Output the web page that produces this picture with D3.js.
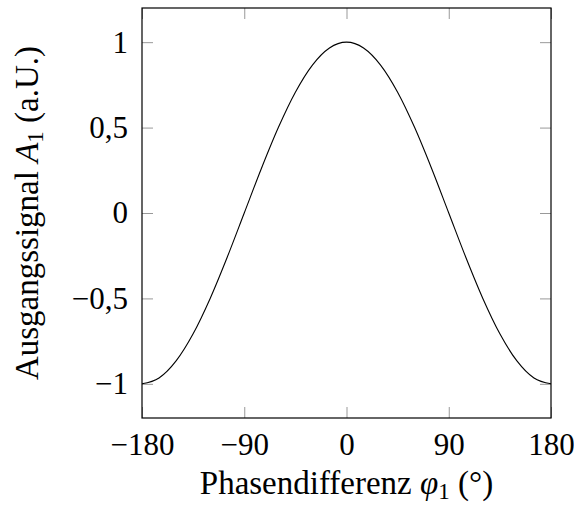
<!DOCTYPE html>
<html>
<head>
<meta charset="utf-8">
<script src="https://cdn.jsdelivr.net/npm/d3@7"></script>
<style>
  body { margin: 0; background: #fff; }
  text { font-family: "Liberation Serif", "Times New Roman", serif; }
</style>
</head>
<body>
<script>
// phase difference (deg) and output signal A1 (a.U.)
var phase  = [-180, -165, -150, -135, -120, -105, -90, -75, -60, -45, -30, -15, 0,
              15, 30, 45, 60, 75, 90, 105, 120, 135, 150, 165, 180];
var signal = [-1, -0.966, -0.866, -0.707, -0.5, -0.259, 0, 0.259, 0.5, 0.707, 0.866, 0.966, 1,
              0.966, 0.866, 0.707, 0.5, 0.259, 0, -0.259, -0.5, -0.707, -0.866, -0.966, -1];
var xTicks = [-180, -90, 0, 90, 180];
var yTicks = [-1, -0.5, 0, 0.5, 1];

var w = 574, h = 506;
var m = {left: 142, right: 23, top: 8, bottom: 88};
var iw = w - m.left - m.right, ih = h - m.top - m.bottom;

var svg = d3.select("body").append("svg")
    .attr("width", w)
    .attr("height", h);

var x = d3.scaleLinear().domain([-180, 180]).range([0, iw]);
var y = d3.scaleLinear().domain([-1.2, 1.2]).range([ih, 0]);

function fmt(v) {
    return String(v).replace(".", ",").replace("-", "\u2212");
}

var g = svg.append("g").attr("transform", "translate(" + m.left + "," + m.top + ")");

// inward ticks on all four sides
var tickLen = 11;
var tc = "#999";
g.append("g").attr("transform", "translate(0," + ih + ")")
    .call(d3.axisBottom(x).tickValues(xTicks).tickSize(-tickLen).tickPadding(15).tickFormat(fmt));
g.append("g")
    .call(d3.axisTop(x).tickValues(xTicks).tickSize(-tickLen).tickFormat(""));
g.append("g")
    .call(d3.axisLeft(y).tickValues(yTicks).tickSize(-tickLen).tickPadding(14).tickFormat(fmt));
g.append("g").attr("transform", "translate(" + iw + ",0)")
    .call(d3.axisRight(y).tickValues(yTicks).tickSize(-tickLen).tickFormat(""));

g.selectAll(".domain").remove();
g.selectAll(".tick line").attr("stroke", tc).attr("stroke-width", 1);
g.selectAll(".tick text").attr("fill", "#000").style("font-size", "31px");

// frame
g.append("rect")
    .attr("width", iw).attr("height", ih)
    .attr("fill", "none").attr("stroke", "#000").attr("stroke-width", 1.2);

// curve
var line = d3.line()
    .x(function(d, i) { return x(phase[i]); })
    .y(function(d) { return y(d); })
    .curve(d3.curveMonotoneX);

g.append("path")
    .datum(signal)
    .attr("d", line)
    .attr("fill", "none")
    .attr("stroke", "#000")
    .attr("stroke-width", 1.1);

// axis labels
var xl = svg.append("text")
    .attr("x", m.left + iw / 2).attr("y", 494)
    .attr("text-anchor", "middle")
    .style("font-size", "33px");
xl.append("tspan").text("Phasendifferenz ");
xl.append("tspan").style("font-style", "italic").text("\u03c6");
xl.append("tspan").attr("dy", 5).style("font-size", "23px").text("1");
xl.append("tspan").attr("dy", -5).text(" (\u00b0)");

var yl = svg.append("text")
    .attr("transform", "translate(38," + (m.top + ih / 2) + ") rotate(-90)")
    .attr("text-anchor", "middle")
    .style("font-size", "33px");
yl.append("tspan").text("Ausgangssignal ");
yl.append("tspan").style("font-style", "italic").text("A");
yl.append("tspan").attr("dy", 5).style("font-size", "23px").text("1");
yl.append("tspan").attr("dy", -5).text(" (a.U.)");
</script>
</body>
</html>
